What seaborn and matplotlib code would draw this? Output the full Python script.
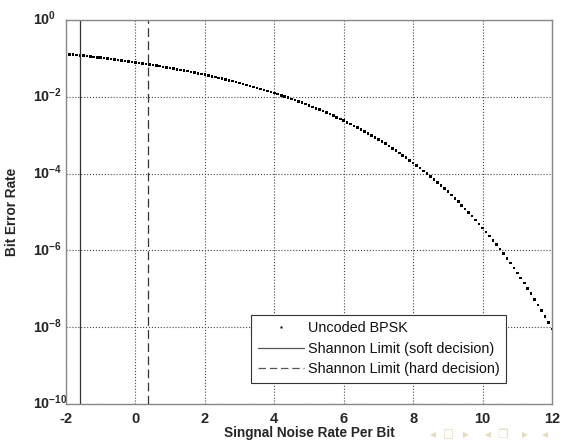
import matplotlib
matplotlib.use("Agg")
import matplotlib.pyplot as plt
import matplotlib.transforms as mtransforms
import seaborn as sns
import pandas as pd
from matplotlib.lines import Line2D

# Eb/N0 in dB (one dot every 0.1 dB, -2 .. 12)
snr_db = [round(-2 + 0.1 * i, 1) for i in range(141)]
# Uncoded BPSK bit error rate
ber = [
    0.1307, 0.1279, 0.1252, 0.1225, 0.1198, 0.1171, 0.1144, 0.1117, 0.1091, 0.1064,
    0.1038, 0.1012, 0.09858, 0.09603, 0.09348, 0.09098, 0.08848, 0.08600, 0.08355, 0.08110,
    0.07865, 0.07629, 0.07394, 0.07163, 0.06934, 0.06708, 0.06486, 0.06266, 0.06050, 0.05837,
    0.05629, 0.05425, 0.05224, 0.05026, 0.04831, 0.04641, 0.04454, 0.04272, 0.04096, 0.03922,
    0.03752, 0.03585, 0.03423, 0.03266, 0.03113, 0.02966, 0.02822, 0.02683, 0.02547, 0.02415,
    0.02289, 0.02166, 0.02048, 0.01934, 0.01823, 0.01717, 0.01616, 0.01519, 0.01425, 0.01336,
    0.01250, 0.01168, 0.01091, 0.01017, 0.009465, 0.008796, 0.008161, 0.007561, 0.006995, 0.006458,
    0.005953, 0.005481, 0.005035, 0.004619, 0.004228, 0.003863, 0.003522, 0.003206, 0.002912, 0.002641,
    0.002388, 0.002157, 0.001942, 0.001746, 0.001565, 0.001400, 0.001250, 0.001113, 9.879e-4, 8.750e-4,
    7.730e-4, 6.811e-4, 5.984e-4, 5.243e-4, 4.580e-4, 3.989e-4, 3.464e-4, 2.999e-4, 2.588e-4, 2.226e-4,
    1.909e-4, 1.632e-4, 1.389e-4, 1.179e-4, 9.972e-5, 8.401e-5, 7.051e-5, 5.895e-5, 4.910e-5, 4.072e-5,
    3.363e-5, 2.766e-5, 2.265e-5, 1.847e-5, 1.499e-5, 1.211e-5, 9.736e-6, 7.790e-6, 6.201e-6, 4.914e-6,
    3.872e-6, 3.035e-6, 2.366e-6, 1.834e-6, 1.414e-6, 1.084e-6, 8.260e-7, 6.252e-7, 4.705e-7, 3.518e-7,
    2.613e-7, 1.928e-7, 1.413e-7, 1.028e-7, 7.429e-8, 5.330e-8, 3.794e-8, 2.680e-8, 1.878e-8, 1.306e-8,
    9.005e-9,
]
shannon_soft = -1.59
shannon_hard = 0.37
x_ticks = [-2, 0, 2, 4, 6, 8, 10, 12]
y_ticks = [1e0, 1e-2, 1e-4, 1e-6, 1e-8, 1e-10]
y_tick_labels = [r"$10^{0}$", r"$10^{-2}$", r"$10^{-4}$", r"$10^{-6}$", r"$10^{-8}$", r"$10^{-10}$"]
legend_labels = ["Uncoded BPSK", "Shannon Limit (soft decision)", "Shannon Limit (hard decision)"]
x_label = "Singnal Noise Rate Per Bit"
y_label = "Bit Error Rate"
nav_symbols = ["◂", "□", "▸", "◂", "❐", "▸", "◂"]

sns.set_theme(style="white")
plt.rcParams["font.family"] = ["Liberation Sans", "DejaVu Sans"]
plt.rcParams["mathtext.fontset"] = "custom"
plt.rcParams["mathtext.rm"] = "Liberation Sans:bold"
plt.rcParams["mathtext.it"] = "Liberation Sans:bold"
plt.rcParams["mathtext.bf"] = "Liberation Sans:bold"

df = pd.DataFrame({"snr": snr_db, "ber": ber})

fig = plt.figure(figsize=(5.62, 4.40), dpi=100)
ax = fig.add_axes([66 / 562, 1 - 404 / 440, 486 / 562, 384 / 440])

sns.scatterplot(data=df, x="snr", y="ber", ax=ax, marker="s", s=3.4,
                color="black", edgecolor="none", linewidth=0, legend=False)
ax.axvline(shannon_soft, color="#333333", lw=0.9, ls="-")
ax.axvline(shannon_hard, color="#333333", lw=0.9, ls=(0, (7, 3.5)))

ax.set_yscale("log")
ax.set_xlim(-2, 12)
ax.set_ylim(1e-10, 1)
ax.set_xticks(x_ticks)
ax.set_xticklabels([str(t) for t in x_ticks], fontweight="bold", fontsize=10.5)
ax.set_yticks(y_ticks)
ax.set_yticklabels(y_tick_labels, fontsize=10.3)
ax.minorticks_off()
ax.tick_params(direction="in", length=3, width=0.6, color="#555555")
ax.tick_params(axis="x", pad=5.5)
ax.tick_params(axis="y", pad=33 * 72 / 100)
up = mtransforms.ScaledTranslation(0, 2.5 / 100, fig.dpi_scale_trans)
for lab in ax.get_yticklabels():
    lab.set_horizontalalignment("left")
    lab.set_transform(lab.get_transform() + up)
ax.grid(True, ls=":", color="#444444", lw=0.8)
for sp in ax.spines.values():
    sp.set_color("#888888")
    sp.set_linewidth(1.0)

ax.set_xlabel(x_label, fontweight="bold", fontsize=9.8, labelpad=0)
ax.set_ylabel(y_label, fontweight="bold", fontsize=9.8)
ax.yaxis.set_label_coords((19 - 66) / 486, 0.5)

handles = [
    Line2D([], [], ls="none", marker="s", ms=1.6, color="black", mec="none"),
    Line2D([], [], ls="-", color="#555555", lw=0.9),
    Line2D([], [], ls=(0, (6, 3)), color="#555555", lw=0.9),
]
leg = ax.legend(handles, legend_labels, loc="lower left", bbox_to_anchor=(0.381, 0.055),
                fontsize=10.4, frameon=True, fancybox=False, edgecolor="#333333",
                framealpha=1, handlelength=3.2, handletextpad=0.3, borderpad=0.45,
                labelspacing=0.45, borderaxespad=0)
leg.get_frame().set_linewidth(0.8)
for t in leg.get_texts():
    t.set_color("#111111")

nav_x = [433, 448, 466, 488, 503, 525, 545]
for sx, sym in zip(nav_x, nav_symbols):
    fig.text(sx / 562, 1 - 434 / 440, sym, color="#e6dac0", fontsize=8.5,
             ha="center", va="center", family=["DejaVu Sans"])

fig.savefig("out.png", dpi=100)
